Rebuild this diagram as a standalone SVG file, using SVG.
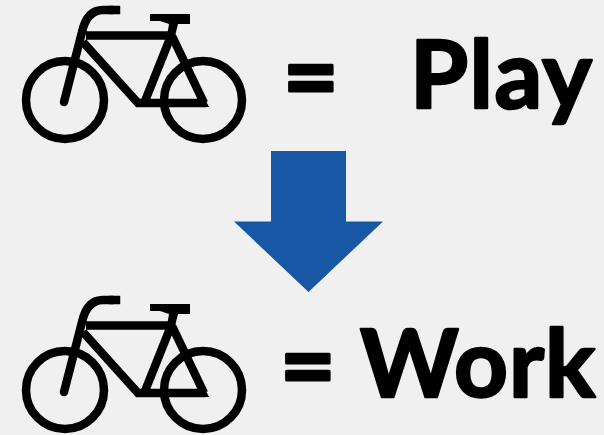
<svg xmlns="http://www.w3.org/2000/svg" width="604" height="435" viewBox="0 0 604 435">
<style>
.b{fill:none;stroke:#000;stroke-width:8.500}
.t{font-family:"Lato","Open Sans",sans-serif;font-weight:700;fill:#000;stroke:#000;stroke-linejoin:round;stroke-width:2.500px;font-size:94px;letter-spacing:1.500px}
.e{font-size:96px;stroke-width:3px;letter-spacing:0}
.w{letter-spacing:1px}
</style>
<defs>
<g id="bike">
<circle class="b" cx="65" cy="100" r="39"/>
<circle class="b" cx="203" cy="100" r="39"/>
<path class="b" stroke-linecap="round" d="M64 102L82 32Q87 10 103 10H113"/>
<path class="b" stroke-linecap="square" d="M113 10H116"/>
<path class="b" d="M86 35.500H172M83 42L138 103H206M171 36L145 101M172 36L204 103"/>
<path d="M150 14H190V24H178L175 36H167L169 24L160 21H150Z"/>
<path d="M200 99H205L209 107H200Z"/>
</g>
</defs>
<rect width="604" height="435" fill="#f0f0f0"/>
<g id="bike-top"><use href="#bike"/></g>
<g id="bike-bottom"><use href="#bike" y="290"/></g>
<g id="eq1"><text class="t e" x="283" y="110">=</text></g>
<g id="play"><text class="t" x="410" y="108">Play</text></g>
<g id="arrow"><path fill="#1757a3" d="M271 151H346V221.500H383L308.500 292L234 221.500H271Z"/></g>
<g id="eq2"><text class="t e" x="280" y="399">=</text></g>
<g id="work"><text class="t w" x="360" y="397">Work</text></g>
</svg>
